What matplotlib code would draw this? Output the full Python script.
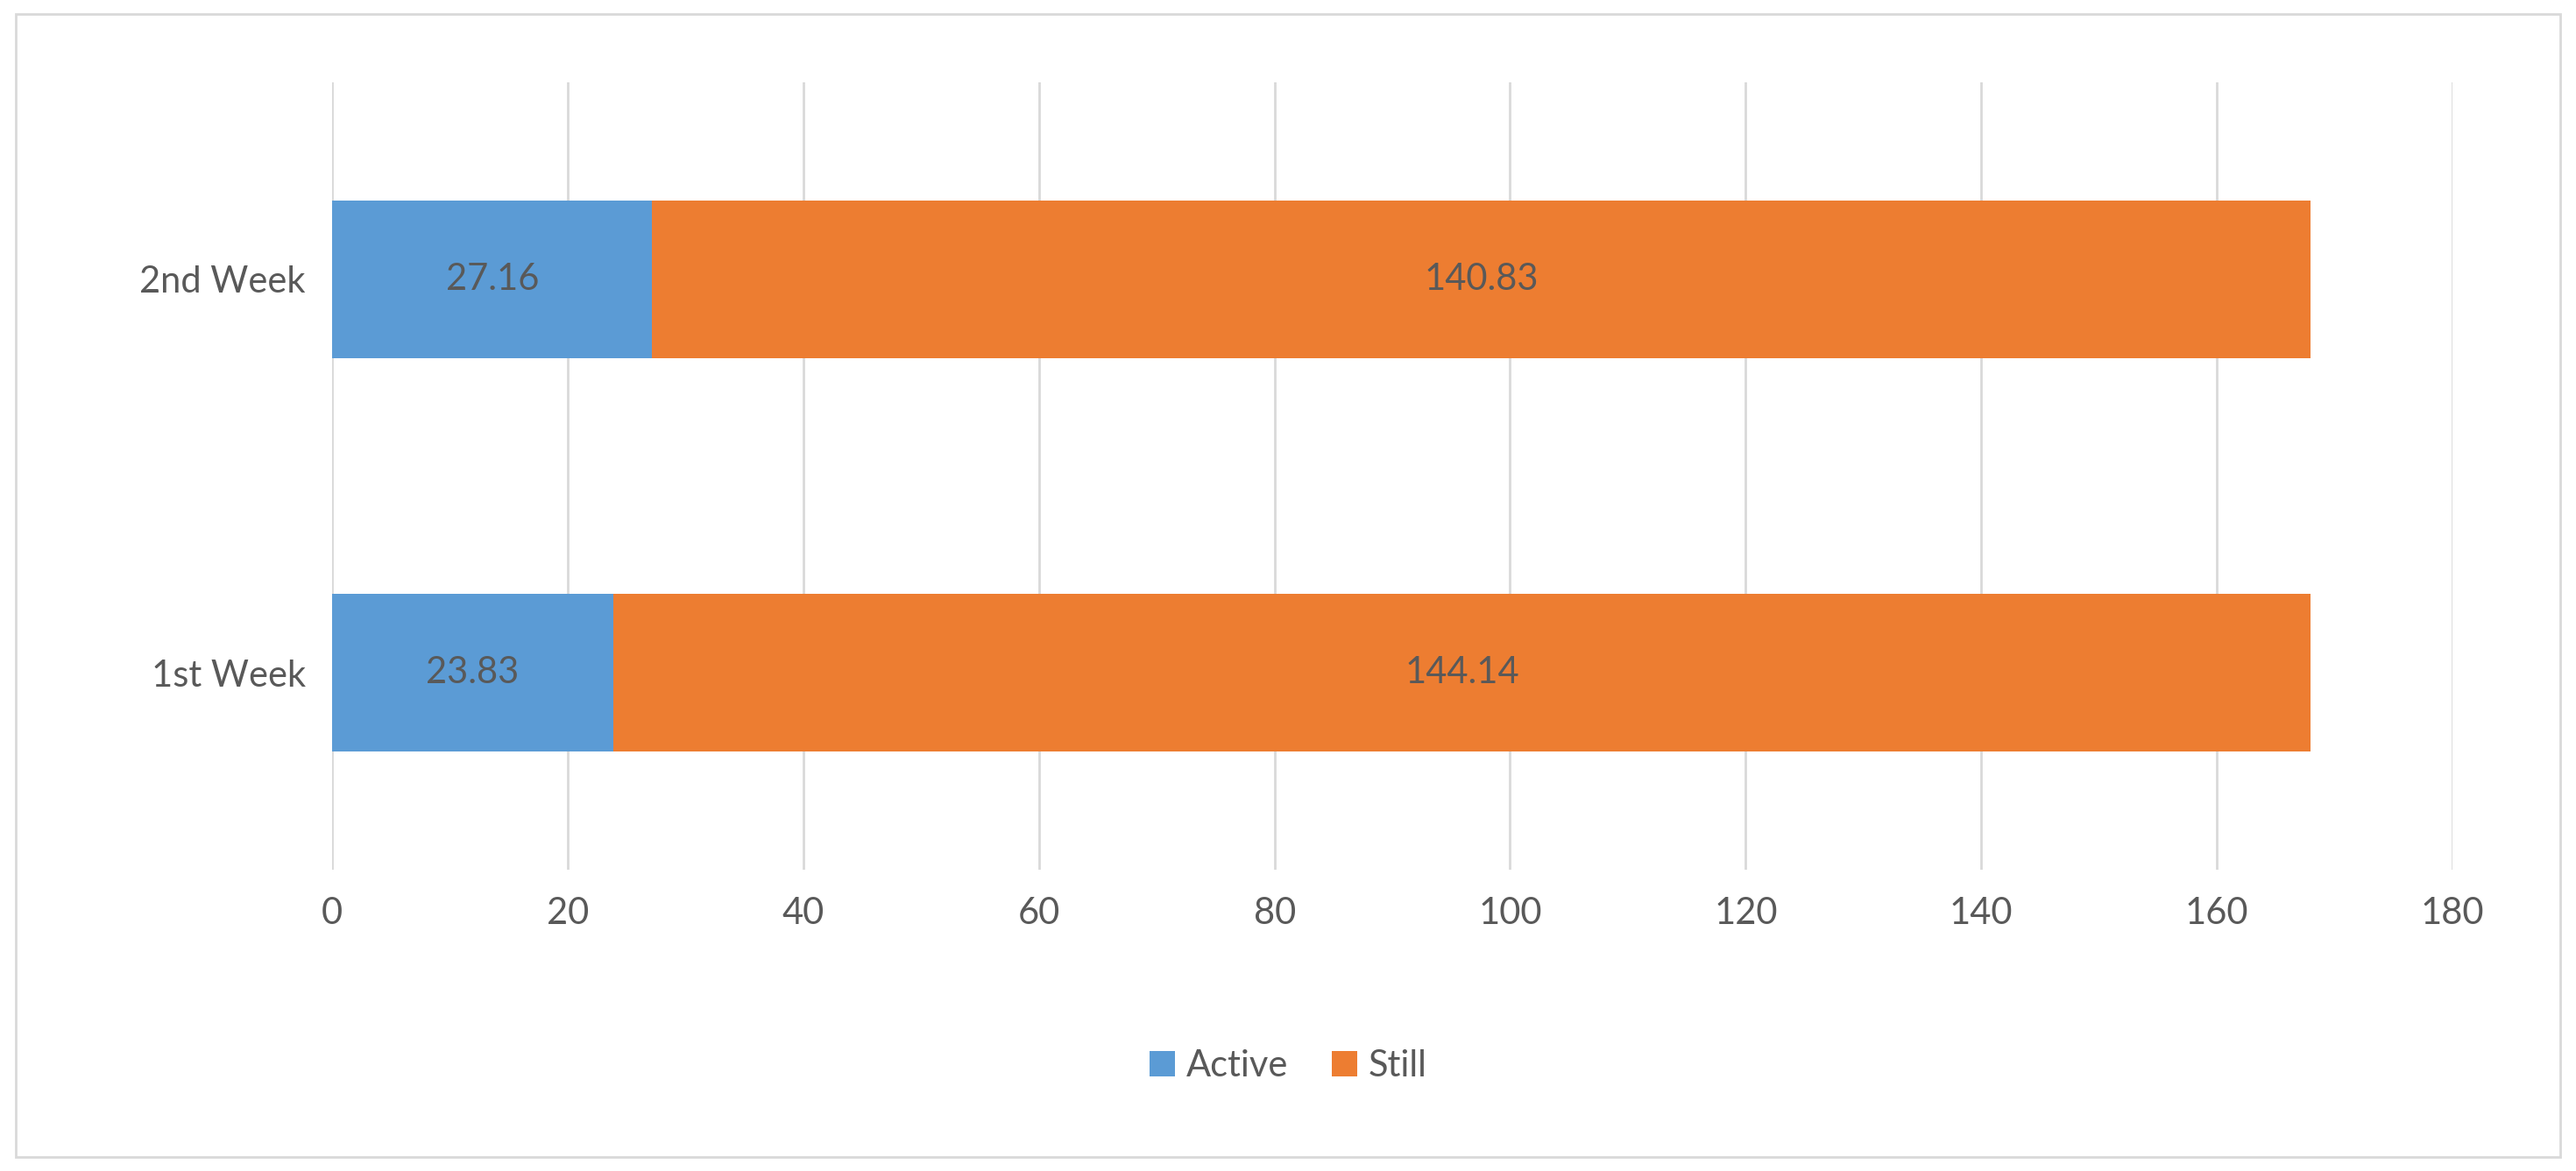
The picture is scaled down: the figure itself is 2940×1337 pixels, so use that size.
import matplotlib
matplotlib.use("Agg")
import matplotlib.pyplot as plt
from matplotlib.patches import Rectangle

categories = ["1st Week", "2nd Week"]
active = [23.83, 27.16]
still = [144.14, 140.83]
xticks = [0, 20, 40, 60, 80, 100, 120, 140, 160, 180]

plt.rcParams['font.family'] = ['Lato', 'DejaVu Sans']
txt = '#595959'
fig = plt.figure(figsize=(29.4, 13.37), dpi=100)
fig.patches.append(Rectangle((0.006, 0.012), 0.988, 0.976, transform=fig.transFigure,
                             fill=False, edgecolor='#D9D9D9', linewidth=2))
ax = fig.add_axes([0.129, 0.257, 0.823, 0.673])
y = list(range(len(categories)))
b1 = ax.barh(y, active, height=0.4, color='#5B9BD5', label='Active', zorder=3)
b2 = ax.barh(y, still, left=active, height=0.4, color='#ED7D31', label='Still', zorder=3)
for i in y:
    ax.text(active[i] / 2, i, f"{active[i]:.2f}", ha='center', va='center', fontsize=30, color=txt, zorder=4)
    ax.text(active[i] + still[i] / 2, i, f"{still[i]:.2f}", ha='center', va='center', fontsize=30, color=txt, zorder=4)
ax.set_xlim(0, 180)
ax.set_ylim(-0.5, 1.5)
ax.set_xticks(xticks)
ax.set_yticks(y)
ax.set_yticklabels(categories)
ax.tick_params(axis='both', length=0, labelsize=30, labelcolor=txt, pad=22)
ax.grid(axis='x', color='#D9D9D9', linewidth=2, zorder=0)
for s in ax.spines.values():
    s.set_visible(False)
fig.legend(handles=[b1, b2], loc='center', bbox_to_anchor=(0.5, 0.09), ncol=2, frameon=False,
           fontsize=30, labelcolor=txt, handlelength=0.7, handleheight=0.7, handletextpad=0.3, columnspacing=1.2)
fig.savefig("out.png", dpi=100)
